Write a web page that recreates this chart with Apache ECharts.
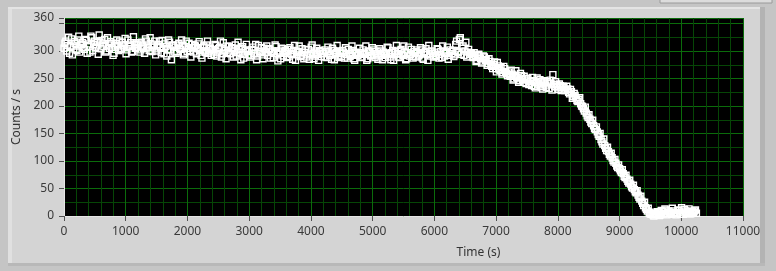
<!DOCTYPE html>
<html>
<head>
<meta charset="utf-8">
<script src="https://cdn.jsdelivr.net/npm/echarts@6/dist/echarts.min.js"></script>
<style>
html,body{margin:0;padding:0;background:#c5c5c5;}
#chart{width:776px;height:271px;}
</style>
</head>
<body>
<div id="chart"></div>
<script>
// Time stamps (s), first set of samples
const timesA = [
0,30,60,90,120,150,180,210,240,270,
300,330,360,390,420,450,480,510,540,570,
600,630,660,690,720,750,780,810,840,870,
900,930,960,990,1020,1050,1080,1110,1140,1170,
1200,1230,1260,1290,1320,1350,1380,1410,1440,1470,
1500,1530,1560,1590,1620,1650,1680,1710,1740,1770,
1800,1830,1860,1890,1920,1950,1980,2010,2040,2070,
2100,2130,2160,2190,2220,2250,2280,2310,2340,2370,
2400,2430,2460,2490,2520,2550,2580,2610,2640,2670,
2700,2730,2760,2790,2820,2850,2880,2910,2940,2970,
3000,3030,3060,3090,3120,3150,3180,3210,3240,3270,
3300,3330,3360,3390,3420,3450,3480,3510,3540,3570,
3600,3630,3660,3690,3720,3750,3780,3810,3840,3870,
3900,3930,3960,3990,4020,4050,4080,4110,4140,4170,
4200,4230,4260,4290,4320,4350,4380,4410,4440,4470,
4500,4530,4560,4590,4620,4650,4680,4710,4740,4770,
4800,4830,4860,4890,4920,4950,4980,5010,5040,5070,
5100,5130,5160,5190,5220,5250,5280,5310,5340,5370,
5400,5430,5460,5490,5520,5550,5580,5610,5640,5670,
5700,5730,5760,5790,5820,5850,5880,5910,5940,5970,
6000,6030,6060,6090,6120,6150,6180,6210,6240,6270,
6300,6330,6360,6390,6420,6450,6480,6510,6540,6570,
6600,6630,6660,6690,6720,6750,6780,6810,6840,6870,
6900,6930,6960,6990,7020,7050,7080,7110,7140,7170,
7200,7230,7260,7290,7320,7350,7380,7410,7440,7470,
7500,7530,7560,7590,7620,7650,7680,7710,7740,7770,
7800,7830,7860,7890,7920,7950,7980,8010,8040,8070,
8100,8130,8160,8190,8220,8250,8280,8310,8340,8370,
8400,8430,8460,8490,8520,8550,8580,8610,8640,8670,
8700,8730,8760,8790,8820,8850,8880,8910,8940,8970,
9000,9030,9060,9090,9120,9150,9180,9210,9240,9270,
9300,9330,9360,9390,9420,9450,9480,9510,9540,9570,
9600,9630,9660,9690,9720,9750,9780,9810,9840,9870,
9900,9930,9960,9990,10020,10050,10080,10110,10140,10170,
10200,10230
];
// Count rate (counts / s) for the first set
const countsA = [
305,318,310,296,322,309,314,301,327,311,
315,303,319,308,298,324,312,306,316,329,
304,313,321,300,311,317,307,296,314,309,
318,305,311,323,302,308,315,299,312,306,
311,298,316,305,322,309,301,313,307,318,
300,312,306,319,295,308,303,316,284,310,
307,299,314,303,310,296,318,305,301,312,
298,309,304,317,292,306,300,311,296,305,
303,294,310,298,306,289,315,301,297,308,
295,304,300,291,316,298,305,287,302,299,
301,292,307,296,284,310,298,293,305,297,
292,303,298,288,311,295,300,286,304,296,
299,290,306,294,301,283,297,309,292,298,
297,289,303,293,311,286,298,294,301,290,
296,302,288,299,293,305,284,297,291,300,
290,298,306,287,295,292,301,283,296,293,
297,289,294,309,286,299,292,302,288,295,
291,300,284,296,293,306,289,297,283,299,
295,288,303,292,298,286,307,294,290,299,
289,297,293,302,285,299,294,310,291,296,
298,290,303,294,288,300,296,307,292,299,
301,293,318,297,324,305,292,316,298,294,
296,288,291,283,294,286,280,289,284,277,
281,272,276,268,279,266,270,261,268,259,
262,254,258,249,264,251,246,255,243,250,
247,239,244,252,236,243,240,248,235,242,
238,244,232,241,257,235,239,230,237,233,
234,229,231,222,226,217,219,210,212,204,
199,191,187,179,176,168,164,157,153,145,
139,131,128,119,117,109,106,98,96,88,
86,79,77,70,67,60,58,51,48,42,
38,31,27,19,15,9,6,3,2,4,
3,6,2,8,4,11,5,7,3,9,
6,4,10,3,7,12,5,8,4,9,
6,11
];
// Time stamps (s), second (interleaved) set of samples
const timesB = [
15,45,75,105,135,165,195,225,255,285,
315,345,375,405,435,465,495,525,555,585,
615,645,675,705,735,765,795,825,855,885,
915,945,975,1005,1035,1065,1095,1125,1155,1185,
1215,1245,1275,1305,1335,1365,1395,1425,1455,1485,
1515,1545,1575,1605,1635,1665,1695,1725,1755,1785,
1815,1845,1875,1905,1935,1965,1995,2025,2055,2085,
2115,2145,2175,2205,2235,2265,2295,2325,2355,2385,
2415,2445,2475,2505,2535,2565,2595,2625,2655,2685,
2715,2745,2775,2805,2835,2865,2895,2925,2955,2985,
3015,3045,3075,3105,3135,3165,3195,3225,3255,3285,
3315,3345,3375,3405,3435,3465,3495,3525,3555,3585,
3615,3645,3675,3705,3735,3765,3795,3825,3855,3885,
3915,3945,3975,4005,4035,4065,4095,4125,4155,4185,
4215,4245,4275,4305,4335,4365,4395,4425,4455,4485,
4515,4545,4575,4605,4635,4665,4695,4725,4755,4785,
4815,4845,4875,4905,4935,4965,4995,5025,5055,5085,
5115,5145,5175,5205,5235,5265,5295,5325,5355,5385,
5415,5445,5475,5505,5535,5565,5595,5625,5655,5685,
5715,5745,5775,5805,5835,5865,5895,5925,5955,5985,
6015,6045,6075,6105,6135,6165,6195,6225,6255,6285,
6315,6345,6375,6405,6435,6465,6495,6525,6555,6585,
6615,6645,6675,6705,6735,6765,6795,6825,6855,6885,
6915,6945,6975,7005,7035,7065,7095,7125,7155,7185,
7215,7245,7275,7305,7335,7365,7395,7425,7455,7485,
7515,7545,7575,7605,7635,7665,7695,7725,7755,7785,
7815,7845,7875,7905,7935,7965,7995,8025,8055,8085,
8115,8145,8175,8205,8235,8265,8295,8325,8355,8385,
8415,8445,8475,8505,8535,8565,8595,8625,8655,8685,
8715,8745,8775,8805,8835,8865,8895,8925,8955,8985,
9015,9045,9075,9105,9135,9165,9195,9225,9255,9285,
9315,9345,9375,9405,9435,9465,9495,9525,9555,9585,
9615,9645,9675,9705,9735,9765,9795,9825,9855,9885,
9915,9945,9975,10005,10035,10065,10095,10125,10155,10185,
10215,10245
];
// Count rate (counts / s) for the second set
const countsB = [
314,300,325,308,293,317,303,320,298,312,
306,321,296,313,327,301,318,309,294,316,
319,308,298,324,305,314,292,311,320,301,
303,316,309,295,320,311,298,326,305,313,
315,302,309,296,318,306,324,299,311,293,
309,318,297,305,313,291,320,302,311,298,
296,311,305,320,293,308,299,314,289,306,
310,295,313,301,287,309,297,318,300,292,
298,312,291,304,318,295,302,286,309,296,
306,289,311,297,303,284,308,294,312,293,
289,303,295,312,291,299,306,286,300,309,
304,287,300,296,308,282,298,305,291,301,
288,303,295,285,310,293,299,290,304,286,
302,293,285,307,296,291,305,283,299,295,
289,299,307,292,285,301,295,310,288,296,
301,287,294,303,290,309,286,298,292,305,
288,302,296,283,300,291,306,293,299,285,
304,292,298,288,307,295,284,301,293,310,
289,301,294,309,284,297,291,303,287,296,
302,291,306,287,297,304,283,295,300,289,
292,304,287,299,309,291,297,285,302,295,
290,312,299,321,294,309,300,289,303,297,
290,297,281,292,289,278,291,283,274,286,
274,268,280,262,273,265,258,272,263,255,
257,265,247,256,252,243,259,248,254,241,
250,241,237,246,233,251,238,245,231,246,
234,242,247,229,238,244,233,240,228,236,
228,236,225,230,214,223,215,208,215,200,
195,198,182,184,171,174,159,162,148,150,
135,140,123,125,112,114,101,103,91,93,
82,84,72,74,63,65,53,56,44,46,
34,36,23,25,12,14,4,7,0,5,
8,1,10,4,13,2,9,5,14,6,
2,11,7,15,3,9,6,13,4,8,
9,5
];
const xMin = 0, xMax = 11000, xStep = 1000;
const yMin = 0, yMax = 360, yStep = 50;
const xTitle = 'Time (s)';
const yTitle = 'Counts / s';

const points = [];
timesA.forEach((t, i) => points.push([t, countsA[i]]));
timesB.forEach((t, i) => points.push([t, countsB[i]]));
points.sort((a, b) => a[0] - b[0]);
const FONT = '"Noto Sans", "DejaVu Sans", sans-serif';

const chart = echarts.init(document.getElementById('chart'), null, {renderer: 'canvas'});
chart.setOption({
  animation: false,
  backgroundColor: '#c5c5c5',
  graphic: {
    elements: [
      {type: 'rect', z: -10, shape: {x: 8, y: 7, width: 757, height: 258}, style: {fill: '#d4d4d4'}},
      {type: 'rect', z: -9, shape: {x: 8, y: 7, width: 4, height: 258}, style: {fill: '#e0e0e0'}},
      {type: 'rect', z: -9, shape: {x: 8, y: 7, width: 757, height: 2}, style: {fill: '#e4e4e4'}},
      {type: 'rect', z: -9, shape: {x: 760, y: 7, width: 5, height: 258}, style: {fill: '#b3b3b3'}},
      {type: 'rect', z: -9, shape: {x: 8, y: 263, width: 757, height: 3}, style: {fill: '#b8b8b8'}},
      {type: 'rect', z: -9, shape: {x: 660, y: -3, width: 112, height: 6}, style: {fill: '#dcdcdc', stroke: '#9a9a9a', lineWidth: 1}}
    ]
  },
  grid: {
    left: 64, right: 33, top: 18, bottom: 55,
    show: true, backgroundColor: '#000000', borderColor: '#e8e8e8', borderWidth: 0
  },
  xAxis: {
    type: 'value', min: xMin, max: xMax, interval: xStep,
    name: xTitle, nameLocation: 'middle', nameGap: 31,
    nameTextStyle: {color: '#333', fontSize: 12, fontFamily: FONT, padding: [0, 0, 0, 150]},
    axisLine: {show: true, lineStyle: {color: '#e6e6e6', width: 1}},
    axisTick: {show: true, length: 5, lineStyle: {color: '#505050'}},
    axisLabel: {color: '#3a3a3a', fontSize: 12, fontFamily: FONT, margin: 10, formatter: v => String(v)},
    splitLine: {show: true, lineStyle: {color: '#0b6c0b', width: 1}},
    minorTick: {show: false, splitNumber: 5},
    minorSplitLine: {show: true, lineStyle: {color: '#064606', width: 1}}
  },
  yAxis: {
    type: 'value', min: yMin, max: yMax, interval: yStep,
    name: yTitle, nameLocation: 'middle', nameGap: 40, nameRotate: 90,
    nameTextStyle: {color: '#333', fontSize: 12, fontFamily: FONT},
    axisLine: {show: true, lineStyle: {color: '#e6e6e6', width: 1}},
    axisTick: {show: true, length: 5, lineStyle: {color: '#505050'}},
    axisLabel: {
      color: '#3a3a3a', fontSize: 12, fontFamily: FONT, margin: 10,
      formatter: v => (v === 350 ? '' : String(v))
    },
    splitLine: {show: true, lineStyle: {color: '#0b6c0b', width: 1}},
    minorTick: {show: false, splitNumber: 2},
    minorSplitLine: {show: true, lineStyle: {color: '#064606', width: 1}}
  },
  series: [{
    type: 'scatter',
    data: points,
    symbol: 'rect',
    symbolSize: 6,
    clip: true,
    itemStyle: {color: 'rgba(0,0,0,0)', borderColor: '#ffffff', borderWidth: 1.4, opacity: 1}
  }]
});
</script>
</body>
</html>
